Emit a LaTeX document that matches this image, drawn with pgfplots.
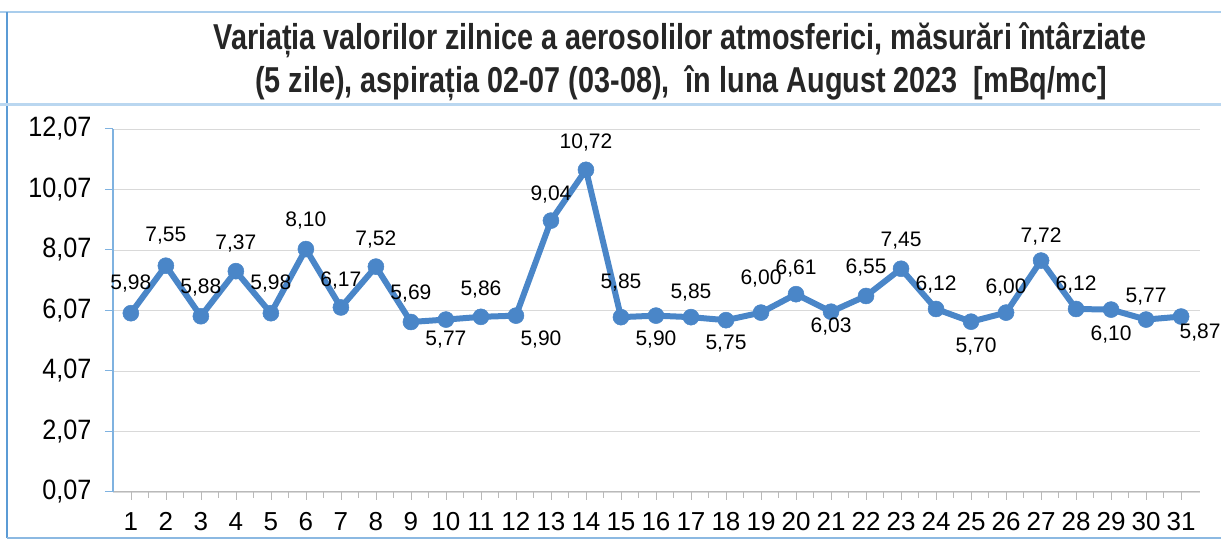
\documentclass[border=0pt]{standalone}
\usepackage{fontspec}
\setmainfont{Liberation Sans}
\newfontfamily\titlefont[FakeStretch=0.8]{Liberation Sans}
\newfontfamily\tickfont[FakeStretch=0.9]{Liberation Sans}
\usepackage{pgfplots}
\pgfplotsset{compat=1.18}
\usepackage{pgfplotstable}

\definecolor{serie}{HTML}{4A86C8}
\definecolor{frameblue}{HTML}{A9CDEC}
\definecolor{edgeblue}{HTML}{5B9BD5}
\definecolor{axisblue}{HTML}{7FB2E0}

% day, value, label offset (dx, dy in pt)
\pgfplotstableread{
x  y     dx  dy
1  5.98  0   30
2  7.55  0   30
3  5.88  0   29
4  7.37  0   28
5  5.98  0   30
6  8.10  0   29
7  6.17  0   27
8  7.52  0   27
9  5.69  0   28
10 5.77  0  -20
11 5.86  0   27
12 5.90  25 -24
13 9.04  0   26
14 10.72 0   27
15 5.85  0   35
16 5.90  0  -24
17 5.85  0   25
18 5.75  0  -23
19 6.00  0   34
20 6.61  0   26
21 6.03  0  -15
22 6.55  0   28
23 7.45  0   28
24 6.12  0   24
25 5.70  5  -25
26 6.00  0   25
27 7.72  0   24
28 6.12  0   24
29 6.10  0  -25
30 5.77  0   23
31 5.87  19 -16
}\datatable

\begin{document}
\begin{tikzpicture}
\useasboundingbox (-113pt,-48pt) rectangle (1108pt,492pt);
% frame of the chart area
\draw[frameblue, line width=2pt] (-113pt,480pt) -- (1108pt,480pt);
\draw[edgeblue, line width=1.5pt] (-106pt,480pt) -- (-106pt,-46pt);
\draw[frameblue!80, line width=3pt] (-113pt,387pt) -- (1108pt,387pt);
\draw[edgeblue!70, line width=1.2pt] (-106pt,-46pt) -- (1108pt,-46pt);

\begin{axis}[
    at={(0,0)}, anchor=south west,
    scale only axis,
    width=1087pt, height=363pt,
    xmin=0.49, xmax=31.54,
    ymin=0.07, ymax=12.07,
    /pgf/number format/assume math mode=true,
    ytick={0.07,2.07,4.07,6.07,8.07,10.07,12.07},
    yticklabels={{0,07},{2,07},{4,07},{6,07},{8,07},{10,07},{12,07}},
    xtick={1,...,31},
    minor x tick num=1,
    axis x line*=bottom,
    axis y line*=left,
    x axis line style={-, gray!55, line width=1pt},
    y axis line style={-, axisblue, line width=1.2pt},
    tick align=outside,
    major tick length=8pt,
    minor tick length=6pt,
    x tick style={gray!55, line width=0.6pt},
    y tick style={axisblue, line width=1pt},
    ymajorgrids=true,
    grid style={gray!30, line width=0.8pt},
    yticklabel style={font=\tickfont\fontsize{28}{28}\selectfont, text=black, xshift=-10pt},
    xticklabel style={font=\fontsize{26}{26}\selectfont, text=black, yshift=-9pt},
    clip=false,
]
\addplot[serie, line width=6pt, mark=*, mark size=8pt,
    mark options={fill=serie, draw=serie, line width=0.5pt},
    visualization depends on={\thisrow{dx}\as\dx},
    visualization depends on={\thisrow{dy}\as\dy},
    nodes near coords={\pgfmathprintnumber[fixed,fixed zerofill,precision=2,use comma,assume math mode=true]{\pgfplotspointmeta}},
    every node near coord/.append style={anchor=center, xshift=\dx, yshift=\dy,
        font=\fontsize{21}{21}\selectfont, text=black},
    ] table[x=x, y=y, meta=y] {\datatable};
\end{axis}

\node[font=\titlefont\bfseries\fontsize{36}{36}\selectfont, text=black!85] at (567pt,452pt)
    {Variația valorilor zilnice a aerosolilor atmosferici, măsurări întârziate};
\node[font=\titlefont\bfseries\fontsize{36}{36}\selectfont, text=black!85] at (568pt,409pt)
    {(5 zile), aspirația 02-07 (03-08),\ \ în luna August 2023\ \ [mBq/mc]};
\end{tikzpicture}
\end{document}
